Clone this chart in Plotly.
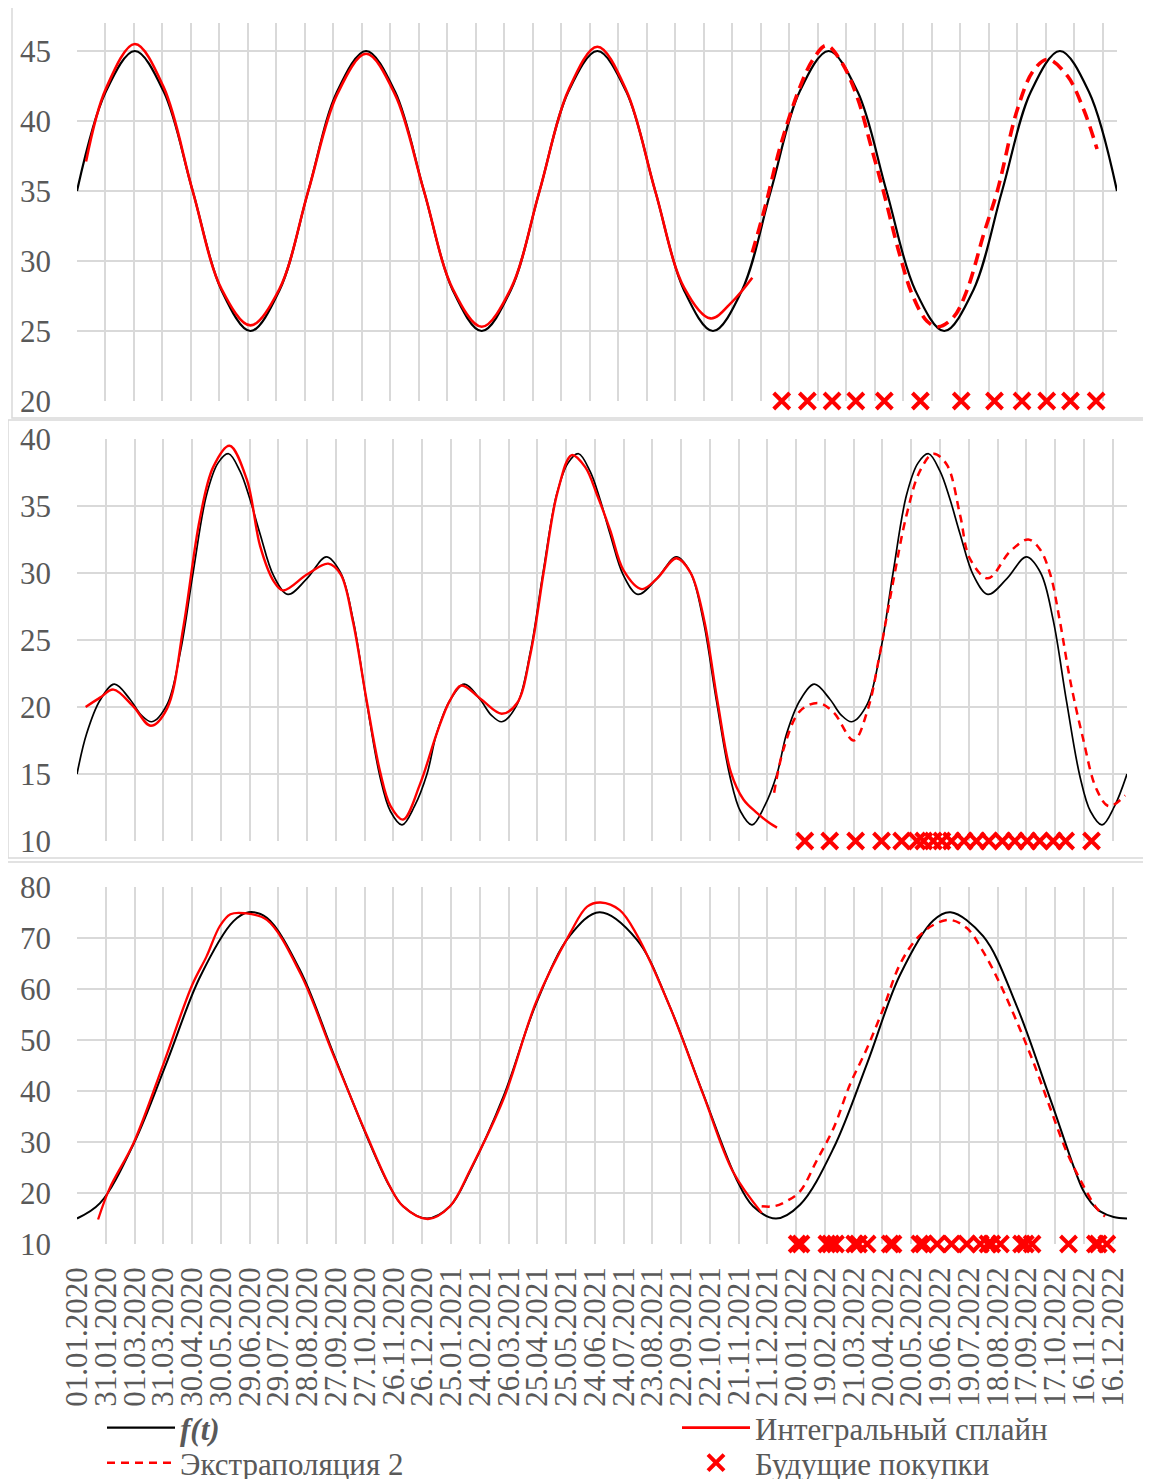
import plotly.graph_objects as go

W, H = 1151, 1479
OFF = 8  # page body margin of the html page

# ---------------- axis ticks ----------------
TICK_DAYS = list(range(0, 1081, 30))
TICK_LABELS = ["01.01.2020", "31.01.2020", "01.03.2020", "31.03.2020", "30.04.2020", "30.05.2020",
               "29.06.2020", "29.07.2020", "28.08.2020", "27.09.2020", "27.10.2020", "26.11.2020",
               "26.12.2020", "25.01.2021", "24.02.2021", "26.03.2021", "25.04.2021", "25.05.2021",
               "24.06.2021", "24.07.2021", "23.08.2021", "22.09.2021", "22.10.2021", "21.11.2021",
               "21.12.2021", "20.01.2022", "19.02.2022", "21.03.2022", "20.04.2022", "20.05.2022",
               "19.06.2022", "19.07.2022", "18.08.2022", "17.09.2022", "17.10.2022", "16.11.2022",
               "16.12.2022"]

# ---------------- panel 1 ----------------
P1_F_DAYS = [0, 30.4, 60.9, 91.3, 121.8, 152.2, 182.6, 213.1, 243.5, 273.9, 304.4, 334.8, 365.3,
             395.7, 426.1, 456.6, 487.0, 517.4, 547.9, 578.3, 608.8, 639.2, 669.6, 700.1, 730.5,
             760.9, 791.4, 821.8, 852.3, 882.7, 913.1, 943.6, 974.0, 1004.4, 1034.9, 1065.3, 1095]
P1_F_VALS = [35, 42.1, 45, 42.1, 35, 27.9, 25, 27.9,
             35, 42.1, 45, 42.1, 35, 27.9, 25, 27.9,
             35, 42.1, 45, 42.1, 35, 27.9, 25, 27.9,
             35, 42.1, 45, 42.1, 35, 27.9, 25, 27.9,
             35, 42.1, 45, 42.1, 35]

P1_S_DAYS = [9.5, 30.4, 60.9, 91.3, 121.8, 152.2, 182.6, 213.1, 243.5, 273.9, 304.4, 334.8, 365.3,
             395.7, 426.1, 456.6, 487.0, 517.4, 547.9, 578.3, 608.8, 639.2, 667, 690, 711]
P1_S_VALS = [37.1, 42.3, 45.5, 42.4, 35.0, 28.0, 25.4, 28.0, 35.0, 41.9, 44.8, 41.9, 35.0,
             28.0, 25.3, 28.0, 35.0, 42.2, 45.3, 42.2, 35.0, 28.1, 25.9, 27.1, 28.8]

P1_E_DAYS = [711, 725, 741, 761, 775, 789, 805, 822, 836, 849, 866, 880, 895, 907, 923, 937,
             955, 969, 990, 1007, 1022, 1043, 1060, 1074]
P1_E_VALS = [30.6, 34.0, 38.3, 42.4, 44.4, 45.4, 44.2, 41.6, 38.2, 35.0, 30.5, 27.5, 25.7, 25.3,
             26.0, 27.9, 32.0, 35.0, 40.8, 43.6, 44.4, 43.2, 40.8, 38.0]

P1_BUY_DAYS = [742, 769, 795, 820, 850, 888, 931, 966, 995, 1021, 1046, 1073]
P1_BUY_LEVEL = 20

# ---------------- panel 2 ----------------
P2_F_DAYS = [0, 10, 24, 39, 55, 67, 78, 94, 108, 121, 135, 147, 158, 170, 180, 191, 205, 220, 240,
             260, 275, 288, 302, 316, 327, 339, 352,
             365, 375, 389, 404, 420, 432, 443, 459, 473, 486, 500, 512, 523, 535, 545, 556, 570,
             585, 605, 625, 640, 653, 667, 681, 692, 704, 717,
             730, 740, 754, 769, 785, 797, 808, 824, 838, 851, 865, 877, 888, 900, 910, 921, 935,
             950, 970, 990, 1005, 1018, 1032, 1046, 1057, 1069, 1082, 1095]
P2_F_VALS = [15.0, 18.0, 20.5, 21.7, 20.6, 19.4, 18.9, 20.2, 24.2, 30.0, 35.8, 38.2, 38.9, 37.6,
             35.6, 32.9, 29.8, 28.4, 29.6, 31.2, 30.0, 26.5, 20.4, 14.8, 12.2, 11.2, 12.6,
             15.0, 18.0, 20.5, 21.7, 20.6, 19.4, 18.9, 20.2, 24.2, 30.0, 35.8, 38.2, 38.9, 37.6,
             35.6, 32.9, 29.8, 28.4, 29.6, 31.2, 30.0, 26.5, 20.4, 14.8, 12.2, 11.2, 12.6,
             15.0, 18.0, 20.5, 21.7, 20.6, 19.4, 18.9, 20.2, 24.2, 30.0, 35.8, 38.2, 38.9, 37.6,
             35.6, 32.9, 29.8, 28.4, 29.6, 31.2, 30.0, 26.5, 20.4, 14.8, 12.2, 11.2, 12.6, 15.0]

P2_S_DAYS = [9, 24, 38, 58, 77, 94, 111, 128, 142, 159, 177, 191, 205, 215, 240, 262, 275, 288,
             302, 316, 327, 340, 358, 375, 389, 401, 421, 443, 459, 473, 487, 501, 516, 530, 542,
             556, 570, 589, 605, 625, 640, 654, 668, 682, 695, 709, 723, 730]
P2_S_VALS = [20.0, 20.7, 21.3, 20.1, 18.6, 19.9, 26.0, 34.0, 37.9, 39.5, 37.0, 32.0, 29.4, 28.7,
             29.9, 30.7, 29.9, 26.3, 20.5, 15.2, 12.6, 11.6, 14.3, 18.0, 20.5, 21.6, 20.6, 19.5,
             20.3, 24.0, 30.2, 36.0, 38.8, 37.9, 35.9, 33.2, 30.2, 28.8, 29.6, 31.1, 30.0, 26.5,
             20.4, 15.1, 13.1, 12.1, 11.3, 11.0]

P2_E_DAYS = [727, 737, 754, 773, 789, 810, 825, 836, 851, 865, 879, 893, 907, 921, 931, 950,
             973, 992, 1004, 1015, 1025, 1036, 1049, 1063, 1076, 1093]
P2_E_VALS = [13.6, 16.9, 19.7, 20.3, 19.6, 17.5, 19.9, 23.5, 29.3, 34.3, 37.6, 38.9, 38.1, 34.3,
             31.1, 29.6, 31.6, 32.5, 31.8, 29.9, 26.4, 21.9, 17.7, 13.9, 12.6, 13.4]

P2_BUY_DAYS = [759, 785, 812, 839, 860, 876, 883, 893, 902, 912, 925, 938, 951, 965, 978, 991,
               1004, 1018, 1031, 1058]
P2_BUY_LEVEL = 10

# ---------------- panel 3 ----------------
P3_F_DAYS = [0, 24, 59, 94, 128, 163, 179, 198, 233, 267, 302, 326, 340, 365,
             389, 410, 445, 479, 514, 545, 584, 618, 653, 688, 705, 729,
             754, 789, 824, 858, 893, 911, 945, 980, 1015, 1049, 1058, 1067, 1081, 1095]
P3_F_VALS = [15.0, 18.0, 29.6, 45.8, 62.2, 73.2, 75.0, 73.9, 63.5, 47.5, 31.2, 21.3, 17.4, 15.0,
             17.4, 24.3, 39.0, 57.2, 70.4, 75.0, 69.6, 56.6, 39.4, 22.6, 17.4, 15.0,
             17.7, 28.8, 45.4, 62.6, 73.4, 75.0, 70.3, 56.6, 38.4, 20.6, 18.0, 16.4, 15.3, 15.0]

P3_S_DAYS = [22, 34, 59, 90, 120, 135, 149, 160, 175, 198, 233, 267, 302, 326, 340, 366, 389, 410,
             445, 479, 514, 532, 546, 566, 584, 618, 653, 684, 714]
P3_S_VALS = [14.8, 20.9, 29.8, 45.2, 60.7, 66.3, 72.3, 74.6, 74.8, 73.5, 63.0, 47.2, 31.4, 21.4,
             17.4, 14.9, 17.4, 24.5, 38.5, 57.5, 70.8, 76.1, 76.9, 75.4, 70.5, 56.6, 39.3, 24.2,
             16.1]

P3_E_DAYS = [714, 727, 740, 754, 771, 789, 806, 824, 841, 858, 876, 893, 910, 928, 945, 963, 980,
             997, 1015, 1032, 1049, 1063, 1072]
P3_E_VALS = [17.4, 17.4, 18.4, 20.3, 26.2, 32.7, 41.2, 48.4, 56.2, 64.7, 69.9, 72.5, 73.5, 71.9,
             67.3, 60.8, 53.6, 45.8, 36.6, 28.1, 21.6, 17.1, 15.4]

P3_BUY_DAYS = [751, 755, 782, 786, 791, 811, 815, 824, 848, 851, 879, 883, 897, 912, 928, 942,
               950, 954, 963, 985, 989, 996, 1034, 1062, 1065, 1074]
P3_BUY_LEVEL = 10

NAMES = ["<b><i>f(t)</i></b>", "Интегральный сплайн", "Экстраполяция 2", "Будущие покупки"]

# ---------------- geometry (screen pixels) ----------------
FONT = "Liberation Serif, Times New Roman, serif"
GRID = "#d9d9d9"
TXT = "#595959"
RED = "#ff0000"


def px_x(p):
    return (p - OFF) / W


def px_y(p):
    return 1 - (p - OFF) / H


panels = [
    dict(f=(P1_F_DAYS, P1_F_VALS), s=(P1_S_DAYS, P1_S_VALS), e=(P1_E_DAYS, P1_E_VALS),
         buy=(P1_BUY_DAYS, P1_BUY_LEVEL), xdom=(77, 1117), ydom=(401, 23), yr=(20, 47), dt=5,
         fw=2.2, sw=2.6, ew=3.6, dash="12px,7px"),
    dict(f=(P2_F_DAYS, P2_F_VALS), s=(P2_S_DAYS, P2_S_VALS), e=(P2_E_DAYS, P2_E_VALS),
         buy=(P2_BUY_DAYS, P2_BUY_LEVEL), xdom=(77, 1127), ydom=(841, 439), yr=(10, 40), dt=5,
         fw=1.7, sw=2.4, ew=2.5, dash="8px,6px"),
    dict(f=(P3_F_DAYS, P3_F_VALS), s=(P3_S_DAYS, P3_S_VALS), e=(P3_E_DAYS, P3_E_VALS),
         buy=(P3_BUY_DAYS, P3_BUY_LEVEL), xdom=(77, 1127), ydom=(1244, 886.7), yr=(10, 80), dt=10,
         fw=2.0, sw=2.3, ew=2.5, dash="8px,6px"),
]

# legend placement: one small legend per entry (two columns, two rows)
LEG_POS = {"legend": (102, 1428), "legend2": (677, 1428), "legend3": (102, 1463),
           "legend4": (677, 1463)}

fig = go.Figure()
layout = {}
for i, p in enumerate(panels):
    n = "" if i == 0 else str(i + 1)
    xa, ya = "x" + n, "y" + n
    first = i == 0
    fig.add_trace(go.Scatter(x=p["f"][0], y=p["f"][1], mode="lines", name=NAMES[0],
                             line=dict(color="black", width=p["fw"], shape="spline"),
                             xaxis=xa, yaxis=ya, showlegend=first, legend="legend"))
    fig.add_trace(go.Scatter(x=p["s"][0], y=p["s"][1], mode="lines", name=NAMES[1],
                             line=dict(color=RED, width=p["sw"], shape="spline"),
                             xaxis=xa, yaxis=ya, showlegend=first, legend="legend2"))
    fig.add_trace(go.Scatter(x=p["e"][0], y=p["e"][1], mode="lines", name=NAMES[2],
                             line=dict(color=RED, width=p["ew"], dash=p["dash"], shape="spline"),
                             xaxis=xa, yaxis=ya, showlegend=(i == 1), legend="legend3"))
    bd, lvl = p["buy"]
    fig.add_trace(go.Scatter(x=bd, y=[lvl] * len(bd), mode="markers", name=NAMES[3],
                             marker=dict(symbol="x-thin", size=16, color=RED,
                                         line=dict(color=RED, width=4)),
                             cliponaxis=False, xaxis=xa, yaxis=ya, showlegend=first,
                             legend="legend4"))
    xkey = "xaxis" + n
    ykey = "yaxis" + n
    layout[xkey] = dict(domain=[px_x(p["xdom"][0]), px_x(p["xdom"][1])], range=[0, 1095],
                        anchor=ya, tickmode="array", tickvals=TICK_DAYS,
                        ticktext=TICK_LABELS, showticklabels=(i == 2), tickangle=-90,
                        ticks="", showgrid=True, gridcolor=GRID, gridwidth=1.5,
                        zeroline=False, showline=False, automargin=False,
                        ticklabelstandoff=16,
                        tickfont=dict(family=FONT, size=31, color=TXT))
    layout[ykey] = dict(domain=[px_y(p["ydom"][0]), px_y(p["ydom"][1])], range=list(p["yr"]),
                        anchor=xa, tickmode="linear", tick0=p["yr"][0], dtick=p["dt"],
                        ticks="", showgrid=True, gridcolor=GRID, gridwidth=1.5,
                        zeroline=False, showline=False, automargin=False,
                        ticklabelstandoff=25,
                        tickfont=dict(family=FONT, size=31, color=TXT))

for key, (lx, ly) in LEG_POS.items():
    layout[key] = dict(orientation="v", x=px_x(lx), xanchor="left", y=px_y(ly),
                       yanchor="middle", bgcolor="rgba(0,0,0,0)", borderwidth=0,
                       font=dict(family=FONT, size=31, color=TXT), itemsizing="trace",
                       itemwidth=68)

frames = [(12, 5, 1147, 418), (8, 420, 1170, 858), (6, 862, 1170, 1500)]
shapes = []
for (x0, y0, x1, y1) in frames:
    shapes.append(dict(type="rect", xref="paper", yref="paper", x0=px_x(x0), x1=px_x(x1),
                       y0=px_y(y1), y1=px_y(y0), line=dict(color=GRID, width=1.5),
                       fillcolor="rgba(0,0,0,0)", layer="below"))

fig.update_layout(
    width=W, height=H, margin=dict(l=0, r=0, t=0, b=0, autoexpand=False),
    paper_bgcolor="white", plot_bgcolor="white",
    font=dict(family=FONT, size=31, color=TXT),
    shapes=shapes,
    **layout,
)

fig.write_html("out.html")
